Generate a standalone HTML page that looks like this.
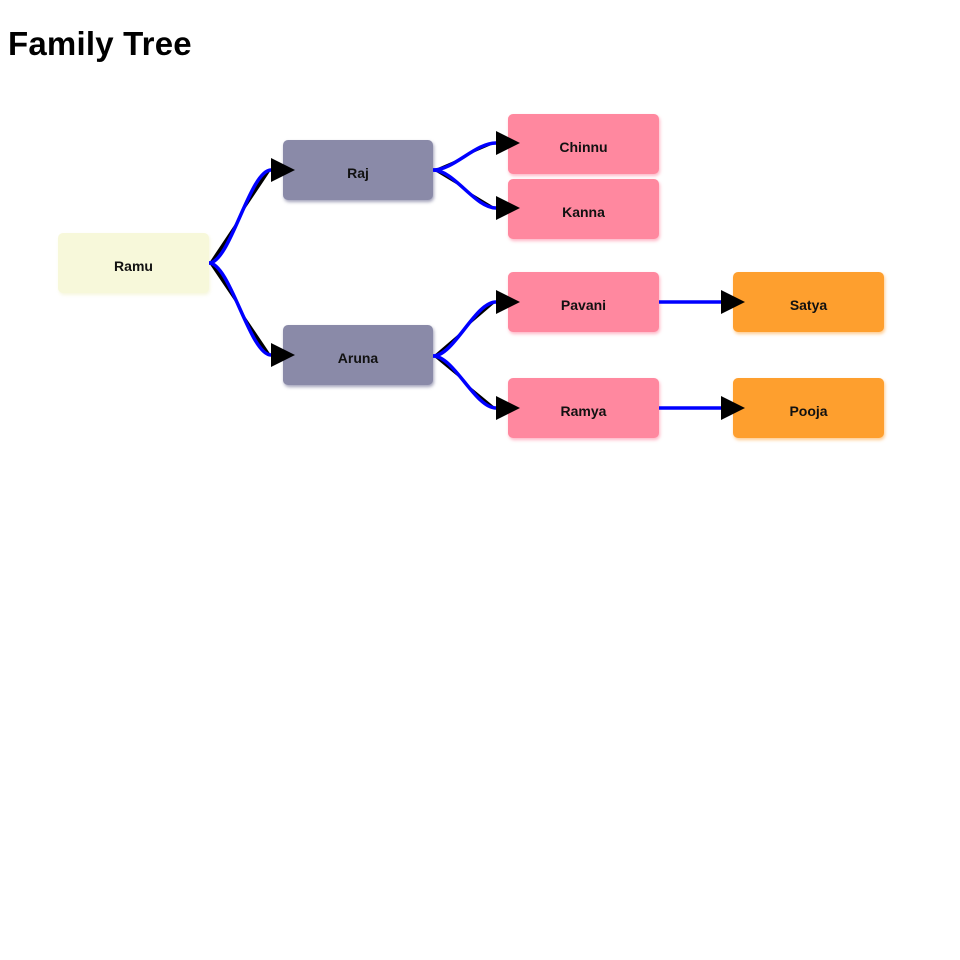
<!DOCTYPE html>
<html><head><meta charset="utf-8"><style>
html,body{margin:0;padding:0;background:#fff;}
body{width:960px;height:960px;position:relative;overflow:hidden;font-family:"Liberation Sans",sans-serif;}
h1{position:absolute;left:8px;top:24px;margin:0;font-size:33px;font-weight:bold;letter-spacing:0.2px;color:#000;line-height:40px;}
.n{position:absolute;width:151px;height:60px;border-radius:5px;display:flex;align-items:center;justify-content:center;font-weight:bold;font-size:14px;color:#111;padding-top:5px;box-sizing:border-box;}
.y{background:#f7f8da;box-shadow:1px 2px 3px rgba(240,240,200,0.6);}
.g{background:#8a8aa8;box-shadow:1px 2px 3px rgba(100,100,140,0.6);}
.p{background:#ff889f;box-shadow:1px 2px 3px rgba(255,120,150,0.55);}
.o{background:#fe9f2e;box-shadow:1px 2px 3px rgba(255,160,50,0.55);}
svg{position:absolute;left:0;top:0;}
</style></head><body>
<h1>Family Tree</h1>
<div class="n y" style="left:58px;top:233px;">Ramu</div>
<div class="n g" style="left:283px;top:140px;width:150px;">Raj</div>
<div class="n g" style="left:283px;top:325px;width:150px;">Aruna</div>
<div class="n p" style="left:508px;top:114px;">Chinnu</div>
<div class="n p" style="left:508px;top:179px;">Kanna</div>
<div class="n p" style="left:508px;top:272px;">Pavani</div>
<div class="n p" style="left:508px;top:378px;">Ramya</div>
<div class="n o" style="left:733px;top:272px;">Satya</div>
<div class="n o" style="left:733px;top:378px;">Pooja</div>
<svg width="960" height="960" viewBox="0 0 960 960">
<defs>
<marker id="a" markerUnits="userSpaceOnUse" markerWidth="26" markerHeight="26" refX="0" refY="12" orient="auto" viewBox="0 0 26 24">
<path d="M0,0 L24,12 L0,24 Z" fill="#000"/>
</marker>
</defs>
<g stroke="#0000ff" stroke-width="3.5" fill="#000" marker-end="url(#a)">
<path d="M209,263 C230,263 250,170 271,170"/>
<path d="M209,263 C230,263 250,355 271,355"/>
<path d="M433,170 C454,170 475,143 496,143"/>
<path d="M433,170 C454,170 475,208 496,208"/>
<path d="M433,356 C454,356 475,302 496,302"/>
<path d="M433,356 C454,356 475,408 496,408"/>
<path d="M659,302 L721,302"/>
<path d="M659,408 L721,408"/>
</g>
</svg>
</body></html>
